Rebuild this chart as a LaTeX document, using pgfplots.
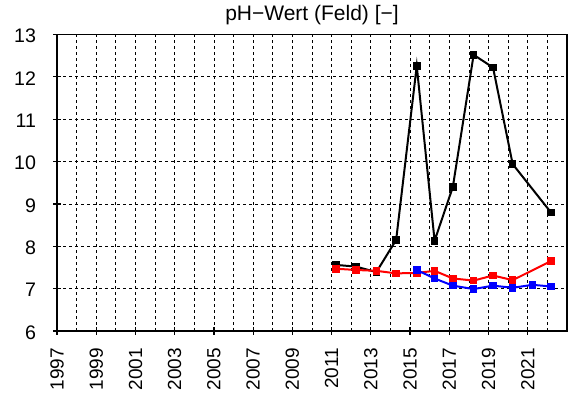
\documentclass[border=0pt]{standalone}
\usepackage{pgfplots}
\pgfplotsset{compat=1.18}
\usepackage{fontspec}
\setmainfont{Liberation Sans}
\usetikzlibrary{calc}
\begin{document}
\begin{tikzpicture}
\begin{axis}[name=ax, scale only axis, width=255pt, height=148.25pt,
 xmin=1997, xmax=2023, ymin=6, ymax=13,
 xtick={1997,1999,...,2021}, minor xtick={1998,2000,...,2022}, ytick={6,...,13},
 grid=both,
 major grid style={black, line width=0.4pt, dash pattern=on 1.5pt off 1.5pt},
 minor grid style={black, line width=0.4pt, dash pattern=on 1.5pt off 1.5pt},
 minor tick length=0pt, major tick length=4pt, tick align=center,
 xtick pos=bottom, ytick pos=left,
 axis line style={line width=0.8pt}, tick style={black, line width=0.6pt},
 /pgf/number format/1000 sep={}, /pgf/number format/assume math mode=true,
 xticklabel style={rotate=90, anchor=east, font=\fontsize{9.5}{11}\selectfont},
 yticklabel style={font=\fontsize{9.8}{11}\selectfont, yshift=-0.8pt},
 xticklabel shift=3pt, yticklabel shift=5pt,
 title={pH−Wert (Feld) [−]}, title style={font=\fontsize{10.5}{12}\selectfont, yshift=-4.5pt},
]
\addplot[black, line width=1pt, mark=square*, mark size=1.4pt, mark options={solid}] coordinates {
(2011.22,7.56) (2012.24,7.52) (2013.28,7.39) (2014.29,8.15) (2015.34,12.26) (2016.25,8.13)
(2017.18,9.40) (2018.24,12.52) (2019.23,12.22) (2020.23,9.94) (2022.18,8.80)};
\addplot[red, line width=1pt, mark=square*, mark size=1.4pt, mark options={solid}] coordinates {
(2011.22,7.47) (2012.24,7.44) (2013.28,7.42) (2014.29,7.36) (2015.34,7.37) (2016.25,7.42)
(2017.18,7.24) (2018.24,7.19) (2019.23,7.31) (2020.23,7.20) (2022.18,7.65)};
\addplot[blue, line width=1pt, mark=square*, mark size=1.4pt, mark options={solid}] coordinates {
(2015.34,7.44) (2016.25,7.24) (2017.18,7.07) (2018.24,6.99) (2019.23,7.07) (2020.23,7.02)
(2021.25,7.09) (2022.18,7.05)};
\end{axis}
\pgfresetboundingbox
\path ($(ax.south west)+(-28.5pt,-35pt)$) rectangle ($(ax.north east)+(0.5pt,17.25pt)$);
\end{tikzpicture}
\end{document}
